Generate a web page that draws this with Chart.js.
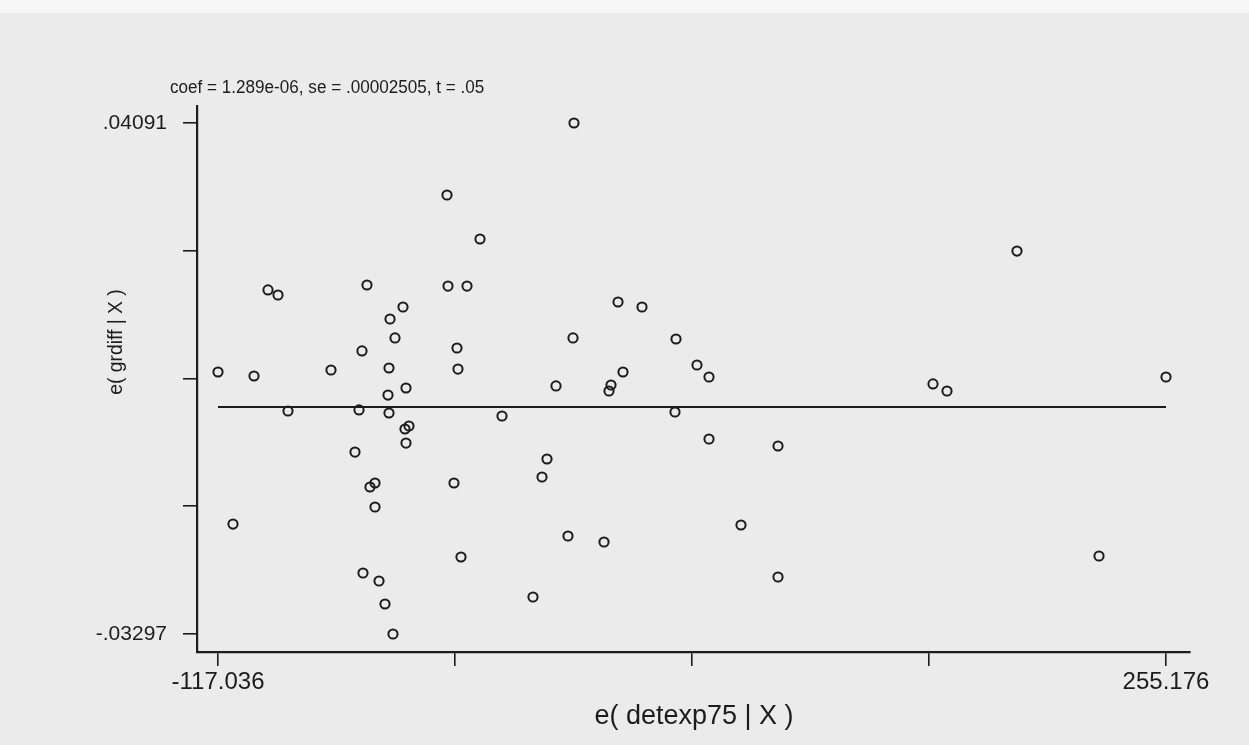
<!DOCTYPE html>
<html>
<head>
<meta charset="utf-8">
<script src="https://cdn.jsdelivr.net/npm/chart.js@4/dist/chart.umd.min.js"></script>
<style>
  html, body { margin: 0; padding: 0; background: #ebebeb; }
  #wrap { width: 1249px; height: 745px; position: relative; }
</style>
</head>
<body>
<div id="wrap"><canvas id="c" width="1249" height="745"></canvas></div>
<script>
// ---- data ----
const titleText = "coef = 1.289e-06, se = .00002505, t = .05";
const xTitle = "e( detexp75 | X )";
const yTitle = "e( grdiff | X )";

const xVals = [22.74, -27.12, -14.17, 196.67, -97.40, -93.48, -58.54, -26.73, -19.27, -44.40,
  -49.50, -47.54, -60.50, -23.20, -117.036, -102.90, -72.67, -49.90, -22.81, -43.22,
  -50.29, 40.02, 49.44, 22.35, 62.79, 41.98, 71.03, 75.75, 15.67, 37.27,
  36.48, 163.70, 169.19, 255.176, -89.55, -61.67, -49.90, -5.53, -42.05, -43.62,
  -43.22, -63.25, 12.14, 10.18, -55.39, -57.36, -24.38, -55.39, -111.15, -21.63,
  -60.11, -53.82, -51.47, -48.33, 6.64, 20.38, 34.52, 62.39, 75.75, 102.84,
  88.31, 102.84, 228.87];
const yVals = [.04091, .03050, .02414, .02240, .01677, .01604, .01749, .01734, .01734, .01431,
  .01257, .00983, .00795, .00838, .00491, .00433, .00520, .00549, .00534, .00260,
  .00158, .01503, .01431, .00983, .00968, .00491, .00592, .00419, .00289, .00303,
  .00216, .00318, .00216, .00419, -.00073, -.00058, -.00102, -.00145, -.00290, -.00333,
  -.00536, -.00666, -.00767, -.01027, -.01114, -.01172, -.01114, -.01461, -.01707, -.02184,
  -.02415, -.02531, -.02863, -.03297, -.02762, -.01880, -.01967, -.00087, -.00478, -.00579,
  -.01721, -.02473, -.02169];

const fitX = [-117.036, 255.176];
const fitY = [-0.00015, -0.00015];

const xTicks = [-117.036, -23.983, 69.07, 162.123, 255.176];
const xTickLabels = ["-117.036", "", "", "", "255.176"];
const yTicks = [.04091, .02244, .00397, -.0145, -.03297];
const yTickLabels = [".04091", "", "", "", "-.03297"];

const xRange = [-125.28, 264.6];
const yRange = [-.035572, .043368];

// ---- build ----
const pts = xVals.map((x, i) => ({ x: x, y: yVals[i] }));
const fit = fitX.map((x, i) => ({ x: x, y: fitY[i] }));
const ink = "#1c1c1c";
const FONT = "'Liberation Sans', Arial, Helvetica, sans-serif";

const bgPlugin = {
  id: "bg",
  beforeDraw(chart) {
    const ctx = chart.ctx;
    ctx.save();
    ctx.fillStyle = "#ebebeb";
    ctx.fillRect(0, 0, chart.width, chart.height);
    ctx.fillStyle = "#f7f7f7";
    ctx.fillRect(0, 0, chart.width, 13);
    ctx.restore();
  }
};

const textPlugin = {
  id: "texts",
  afterDraw(chart) {
    const ctx = chart.ctx;
    ctx.save();
    ctx.fillStyle = ink;
    ctx.textBaseline = "middle";

    // main title
    ctx.save();
    ctx.translate(170, 88);
    ctx.scale(0.95, 1);
    ctx.font = "18px " + FONT;
    ctx.textAlign = "left";
    ctx.fillText(titleText, 0, 0);
    ctx.restore();

    // x title
    ctx.font = "27px " + FONT;
    ctx.textAlign = "center";
    ctx.fillText(xTitle, 694, 717);

    // y title (rotated)
    ctx.save();
    ctx.translate(116, 342);
    ctx.rotate(-Math.PI / 2);
    ctx.scale(0.92, 1);
    ctx.font = "21px " + FONT;
    ctx.textAlign = "center";
    ctx.fillText(yTitle, 0, 0);
    ctx.restore();

    ctx.restore();
  }
};

new Chart(document.getElementById("c"), {
  type: "scatter",
  data: {
    datasets: [
      {
        label: "fit",
        data: fit,
        showLine: true,
        borderColor: ink,
        borderWidth: 2.2,
        pointRadius: 0,
        fill: false,
        order: 2
      },
      {
        label: "residuals",
        data: pts,
        pointStyle: "circle",
        pointRadius: 4.6,
        pointBorderWidth: 2,
        pointBorderColor: ink,
        pointBackgroundColor: "rgba(0,0,0,0)",
        order: 1
      }
    ]
  },
  plugins: [bgPlugin, textPlugin],
  options: {
    responsive: false,
    animation: false,
    devicePixelRatio: 1,
    layout: { padding: { left: 0, right: 59, top: 106, bottom: 0 } },
    plugins: { legend: { display: false }, tooltip: { enabled: false }, title: { display: false } },
    scales: {
      x: {
        type: "linear",
        position: "bottom",
        min: xRange[0],
        max: xRange[1],
        afterBuildTicks(s) { s.ticks = xTicks.map(v => ({ value: v })); },
        afterFit(s) { s.height = 93; },
        ticks: {
          autoSkip: false,
          maxRotation: 0,
          padding: 2,
          color: ink,
          font: { family: FONT, size: 24 },
          callback(v) { const i = xTicks.indexOf(v); return i >= 0 ? xTickLabels[i] : ""; }
        },
        grid: { display: true, drawOnChartArea: false, drawTicks: true, tickLength: 14, color: ink, lineWidth: 1.6 },
        border: { display: true, color: ink, width: 2.2 }
      },
      y: {
        type: "linear",
        position: "left",
        min: yRange[0],
        max: yRange[1],
        afterBuildTicks(s) { s.ticks = yTicks.map(v => ({ value: v })); },
        afterFit(s) { s.width = 197; },
        ticks: {
          autoSkip: false,
          padding: 16,
          color: ink,
          font: { family: FONT, size: 21 },
          callback(v) { const i = yTicks.indexOf(v); return i >= 0 ? yTickLabels[i] : ""; }
        },
        grid: { display: true, drawOnChartArea: false, drawTicks: true, tickLength: 14, color: ink, lineWidth: 1.6 },
        border: { display: true, color: ink, width: 2.2 }
      }
    }
  }
});
</script>
</body>
</html>
